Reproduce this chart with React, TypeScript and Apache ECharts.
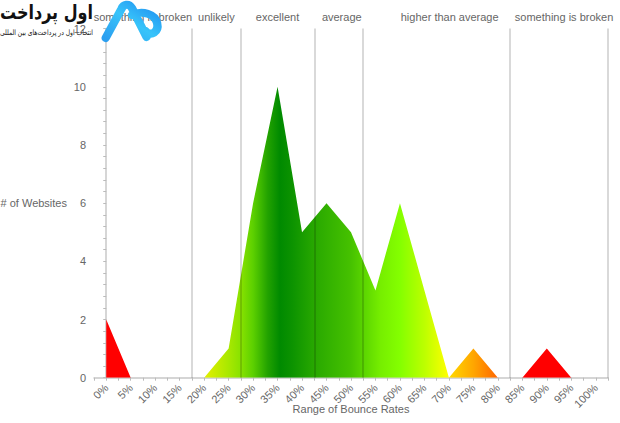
import React, { useEffect, useRef } from 'react';
import * as echarts from 'echarts';

// ---- data ----
const bounceRates = [0, 5, 10, 15, 20, 25, 30, 35, 40, 45, 50, 55, 60, 65, 70, 75, 80, 85, 90, 95, 100];
const websiteCounts = [2, 0, 0, 0, 0, 1, 6, 10, 5, 6, 5, 3, 6, 3, 0, 1, 0, 0, 1, 0, 0];
const zoneNames = ['something is broken', 'unlikely', 'excellent', 'average', 'higher than average', 'something is broken'];
const zoneBounds = [-2.5, 17.5, 27.5, 42.5, 52.5, 82.5, 102.5];
const yMin = 0;
const yMax = 12;
const yInterval = 2;
const xMin = -2.5;
const xMax = 102.5;
const xInterval = 2.5;
const logoTitle = 'اول پرداخت';
const logoSubtitle = 'انتخاب اول در پرداخت‌های بین المللی';

const LOGO_D =
  'M13 38 L28 9 C30 4 35 3 38 8 L52 37 ' +
  'M38 15 C48 10 60 14 62 23 C64 32 56 37 51 31';

let registered = false;
function ensureLogo() {
  if (registered) return;
  registered = true;
  echarts.graphic.registerShape('logo', echarts.graphic.extendPath(LOGO_D, {}));
}

const FONT = '"Liberation Sans", Arial, sans-serif';
const TXT = '#666';

export default function App() {
  const ref = useRef<HTMLDivElement>(null);
  useEffect(() => {
    document.body.style.margin = '0';
    ensureLogo();
    const chart = echarts.init(ref.current!, null, { renderer: 'svg' });
    const points = bounceRates.map((x, i) => [x, websiteCounts[i]]);
    const labelShift = [0, 0, 0, 3, 13, 5];
    const areaData = zoneNames.map((name, i) => [
      {
        name,
        xAxis: zoneBounds[i],
        label: { offset: [labelShift[i], 0] },
      },
      { xAxis: zoneBounds[i + 1] },
    ]);
    const lineData = zoneBounds.slice(1).map((v) => ({ xAxis: v }));

    const fill = new echarts.graphic.LinearGradient(0, 0, 1, 0, [
      { offset: 0, color: '#ff0000' },
      { offset: 0.05, color: '#ff0000' },
      { offset: 0.2, color: '#e4ef00' },
      { offset: 0.25, color: '#a8e800' },
      { offset: 0.275, color: '#88e200' },
      { offset: 0.3, color: '#5cd000' },
      { offset: 0.33, color: '#22a200' },
      { offset: 0.355, color: '#008a00' },
      { offset: 0.38, color: '#0c9300' },
      { offset: 0.425, color: '#28a800' },
      { offset: 0.5, color: '#46c200' },
      { offset: 0.56, color: '#76ee00' },
      { offset: 0.6, color: '#84ff00' },
      { offset: 0.65, color: '#bcff00' },
      { offset: 0.699, color: '#ffff00' },
      { offset: 0.705, color: '#ffd400' },
      { offset: 0.75, color: '#ffa600' },
      { offset: 0.8, color: '#ff6600' },
      { offset: 0.83, color: '#ff0000' },
      { offset: 1, color: '#ff0000' },
    ]);

    chart.setOption({
      animation: false,
      backgroundColor: '#ffffff',
      textStyle: { fontFamily: FONT },
      grid: { left: 94, right: 12, top: 28.6, bottom: 45.3, containLabel: false, outerBoundsMode: 'none' },
      xAxis: {
        type: 'value',
        min: xMin,
        max: xMax,
        interval: xInterval,
        name: 'Range of Bounce Rates',
        nameLocation: 'middle',
        nameGap: 26,
        nameMoveOverlap: false,
        nameTextStyle: { color: TXT, fontSize: 11, fontFamily: FONT },
        axisLine: { show: true, lineStyle: { color: '#c8c8c8', width: 1.5 } },
        axisTick: { show: true, length: 3, lineStyle: { color: '#bbbbbb' } },
        splitLine: { show: false },
        axisLabel: {
          rotate: 45,
          margin: 8,
          color: TXT,
          fontSize: 11,
          fontFamily: FONT,
          formatter: (v: number) => {
            const r = Math.round(v * 100) / 100;
            if (r < 0 || r > 100) return '';
            return Math.abs(r % 5) < 0.01 ? `${Math.round(r)}%` : '';
          },
        },
      },
      yAxis: {
        type: 'value',
        min: yMin,
        max: yMax,
        interval: yInterval,
        name: '# of Websites',
        nameLocation: 'middle',
        nameRotate: 0,
        nameGap: 27,
        nameMoveOverlap: false,
        nameTextStyle: { color: TXT, fontSize: 11, fontFamily: FONT, align: 'right', verticalAlign: 'middle' },
        axisLine: { show: true, lineStyle: { color: '#c8c8c8', width: 1.5 } },
        axisTick: { show: true, length: 3, lineStyle: { color: '#bbbbbb' } },
        minorTick: { show: true, splitNumber: 5, length: 3, lineStyle: { color: '#bbbbbb' } },
        splitLine: { show: false },
        axisLabel: { color: TXT, fontSize: 11, fontFamily: FONT, margin: 8 },
      },
      series: [
        {
          type: 'line',
          data: points,
          showSymbol: false,
          symbol: 'none',
          lineStyle: { width: 0, opacity: 0 },
          areaStyle: { color: fill, opacity: 1 },
          z: 2,
          markArea: {
            silent: true,
            itemStyle: { color: 'rgba(0,0,0,0)' },
            label: {
              show: true,
              position: 'top',
              distance: 6,
              color: TXT,
              fontSize: 11,
              fontFamily: FONT,
            },
            data: areaData,
          },
          markLine: {
            silent: true,
            symbol: 'none',
            label: { show: false },
            lineStyle: { color: 'rgba(0,0,0,0.15)', width: 2, type: 'solid' },
            data: lineData,
          },
        },
      ],
      graphic: [
        {
          type: 'text',
          z: 100,
          x: 93,
          y: 12,
          scaleX: 0.8,
          style: {
            text: logoTitle,
            x: 0,
            y: 0,
            textAlign: 'right',
            textVerticalAlign: 'middle',
            fill: '#111',
            font: 'bold 20px "DejaVu Sans", sans-serif',
          },
        },
        {
          type: 'text',
          z: 100,
          x: 93,
          y: 33,
          scaleX: 0.8,
          style: {
            text: logoSubtitle,
            x: 0,
            y: 0,
            textAlign: 'right',
            textVerticalAlign: 'middle',
            fill: '#111',
            font: '7.5px "DejaVu Sans", sans-serif',
          },
        },
        {
          type: 'logo',
          z: 100,
          x: 92,
          y: 0,
          scaleX: 1.05,
          scaleY: 1.0,
          style: {
            fill: 'none',
            stroke: new echarts.graphic.LinearGradient(0, 1, 1, 0, [
              { offset: 0, color: '#2b9ff0' },
              { offset: 0.5, color: '#38c4fa' },
              { offset: 1, color: '#1f8ff0' },
            ]),
            lineWidth: 8,
            lineCap: 'round',
            lineJoin: 'round',
          },
        },
      ],
    });
    return () => chart.dispose();
  }, []);
  return <div ref={ref} style={{ position: 'fixed', left: 0, top: 0, width: 620, height: 423 }} />;
}
